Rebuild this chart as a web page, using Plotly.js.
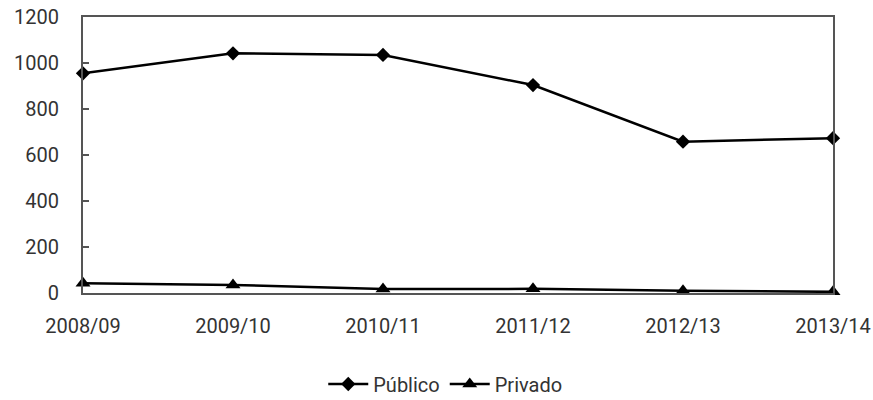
<!DOCTYPE html>
<html>
<head>
<meta charset="utf-8">
<script src="https://cdn.plot.ly/plotly-3.0.1.min.js"></script>
<style>html,body{margin:0;padding:0;background:#fff;}#chart{width:873px;height:400px;}</style>
</head>
<body>
<div id="chart"></div>
<script>
const categories = ["2008/09", "2009/10", "2010/11", "2011/12", "2012/13", "2013/14"];
const publico = [955, 1042, 1035, 904, 658, 673];
const privado = [42, 35, 17, 18, 10, 5];
const yTicks = [0, 200, 400, 600, 800, 1000, 1200];

const traces = [
  {x: categories, y: publico, name: "Público", type: "scatter", mode: "lines+markers",
   line: {color: "#000", width: 2.5}, marker: {symbol: "diamond", size: 11, color: "#000"}, cliponaxis: false},
  {x: categories, y: privado, name: "Privado", type: "scatter", mode: "lines+markers",
   line: {color: "#000", width: 2.5}, marker: {symbol: "triangle-up", size: 13, color: "#000"}, cliponaxis: false}
];

const layout = {
  width: 873, height: 400,
  margin: {l: 83, r: 40, t: 17, b: 107},
  paper_bgcolor: "#fff", plot_bgcolor: "#fff",
  font: {family: "Roboto, 'DejaVu Sans', sans-serif", size: 20, color: "#333"},
  showlegend: true,
  legend: {orientation: "h", x: 0.483, xanchor: "center", yref: "container", y: 0.04, yanchor: "middle",
           font: {size: 20, color: "#333"}, itemwidth: 40, tracegroupgap: 0},
  xaxis: {type: "category", range: [0, 5], showgrid: false, zeroline: false, automargin: false,
          showline: true, linecolor: "#555", linewidth: 2, mirror: true,
          ticks: "", ticklen: 0, ticklabelstandoff: 14, tickfont: {size: 20, color: "#333"}},
  yaxis: {range: [0, 1200], tickvals: yTicks, ticktext: yTicks.map(String), automargin: false,
          showgrid: false, zeroline: false, showline: true, linecolor: "#555", linewidth: 2, mirror: true,
          ticks: "inside", ticklen: 6, tickcolor: "#555", tickwidth: 1.5,
          ticklabelstandoff: 18, tickfont: {size: 20, color: "#333"}}
};

Plotly.newPlot("chart", traces, layout, {displayModeBar: false, staticPlot: true});
</script>
</body>
</html>
